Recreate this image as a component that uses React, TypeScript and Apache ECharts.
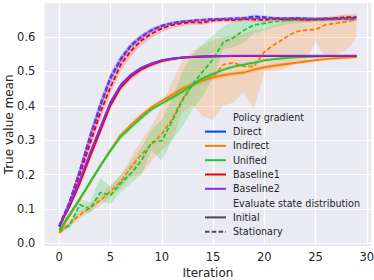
import React, { useEffect, useRef } from "react";
import * as echarts from "echarts";

// ---------- data ----------
const iterations = [0, 1, 2, 3, 4, 5, 6, 7, 8, 9, 10, 11, 12, 13, 14, 15, 16, 17, 18, 19, 20, 21, 22, 23, 24, 25, 26, 27, 28, 29];

const legendLabels = ["Policy gradient", "Direct", "Indirect", "Unified", "Baseline1", "Baseline2", "Evaluate state distribution", "Initial", "Stationary"];

// Direct (blue)
const directInit = [0.05, 0.11, 0.18, 0.26, 0.335, 0.41, 0.46, 0.49, 0.51, 0.523, 0.532, 0.537, 0.54, 0.542, 0.543, 0.544, 0.544, 0.545, 0.545, 0.545, 0.545, 0.545, 0.545, 0.545, 0.545, 0.545, 0.545, 0.545, 0.545, 0.545];
const directInitSd = [0.004, 0.006, 0.008, 0.009, 0.009, 0.008, 0.007, 0.006, 0.005, 0.004, 0.003, 0.003, 0.002, 0.002, 0.002, 0.002, 0.002, 0.002, 0.002, 0.002, 0.002, 0.002, 0.002, 0.002, 0.002, 0.002, 0.002, 0.002, 0.002, 0.002];
const directStat = [0.05, 0.12, 0.21, 0.31, 0.4, 0.48, 0.535, 0.575, 0.6, 0.62, 0.633, 0.64, 0.645, 0.648, 0.65, 0.652, 0.653, 0.654, 0.655, 0.66, 0.658, 0.655, 0.654, 0.655, 0.654, 0.653, 0.654, 0.653, 0.654, 0.655];
const directStatSd = [0.005, 0.008, 0.012, 0.014, 0.014, 0.012, 0.01, 0.008, 0.007, 0.006, 0.005, 0.005, 0.004, 0.004, 0.004, 0.004, 0.004, 0.005, 0.005, 0.006, 0.005, 0.004, 0.004, 0.004, 0.004, 0.004, 0.004, 0.004, 0.004, 0.004];

// Indirect (orange)
const indirectInit = [0.032, 0.08, 0.128, 0.176, 0.225, 0.272, 0.315, 0.345, 0.372, 0.396, 0.414, 0.432, 0.45, 0.462, 0.473, 0.483, 0.489, 0.494, 0.497, 0.505, 0.512, 0.517, 0.521, 0.525, 0.529, 0.533, 0.536, 0.538, 0.54, 0.542];
const indirectInitSd = [0.004, 0.005, 0.006, 0.007, 0.008, 0.008, 0.008, 0.008, 0.008, 0.008, 0.008, 0.008, 0.008, 0.008, 0.008, 0.008, 0.007, 0.007, 0.007, 0.007, 0.006, 0.006, 0.006, 0.005, 0.005, 0.005, 0.004, 0.004, 0.004, 0.004];
const indirectStat = [0.031, 0.057, 0.083, 0.104, 0.125, 0.152, 0.18, 0.222, 0.258, 0.288, 0.318, 0.36, 0.42, 0.46, 0.475, 0.483, 0.52, 0.525, 0.515, 0.515, 0.557, 0.578, 0.597, 0.615, 0.62, 0.622, 0.636, 0.64, 0.645, 0.65];
const indirectStatLo = [0.025, 0.048, 0.072, 0.092, 0.11, 0.135, 0.16, 0.195, 0.2, 0.24, 0.27, 0.3, 0.38, 0.4, 0.37, 0.36, 0.4, 0.41, 0.44, 0.39, 0.5, 0.5, 0.51, 0.52, 0.53, 0.585, 0.54, 0.55, 0.56, 0.6];
const indirectStatHi = [0.037, 0.066, 0.094, 0.116, 0.14, 0.17, 0.2, 0.25, 0.3, 0.34, 0.4, 0.47, 0.53, 0.56, 0.575, 0.59, 0.6, 0.605, 0.61, 0.62, 0.625, 0.635, 0.645, 0.65, 0.65, 0.65, 0.655, 0.655, 0.655, 0.66];

// Unified (green)
const unifiedInit = [0.04, 0.085, 0.13, 0.178, 0.225, 0.27, 0.31, 0.338, 0.365, 0.39, 0.407, 0.424, 0.441, 0.461, 0.48, 0.493, 0.505, 0.514, 0.52, 0.526, 0.532, 0.536, 0.539, 0.541, 0.542, 0.543, 0.544, 0.544, 0.545, 0.545];
const unifiedInitSd = [0.004, 0.005, 0.006, 0.007, 0.008, 0.008, 0.008, 0.008, 0.008, 0.008, 0.007, 0.007, 0.007, 0.007, 0.006, 0.006, 0.006, 0.005, 0.005, 0.005, 0.004, 0.004, 0.004, 0.003, 0.003, 0.003, 0.003, 0.003, 0.003, 0.003];
const unifiedStat = [0.038, 0.053, 0.112, 0.101, 0.148, 0.14, 0.175, 0.204, 0.24, 0.295, 0.298, 0.355, 0.415, 0.462, 0.5, 0.535, 0.585, 0.598, 0.62, 0.635, 0.64, 0.645, 0.648, 0.65, 0.65, 0.651, 0.651, 0.652, 0.652, 0.652];
const unifiedStatLo = [0.033, 0.045, 0.09, 0.088, 0.125, 0.115, 0.15, 0.175, 0.2, 0.27, 0.24, 0.3, 0.34, 0.39, 0.43, 0.48, 0.565, 0.57, 0.585, 0.61, 0.62, 0.63, 0.635, 0.64, 0.642, 0.645, 0.645, 0.645, 0.645, 0.645];
const unifiedStatHi = [0.043, 0.06, 0.13, 0.12, 0.19, 0.165, 0.2, 0.235, 0.28, 0.33, 0.36, 0.42, 0.5, 0.55, 0.58, 0.605, 0.63, 0.645, 0.65, 0.652, 0.655, 0.655, 0.658, 0.658, 0.658, 0.658, 0.658, 0.658, 0.658, 0.658];

// Baseline1 (red)
const baseline1Init = [0.05, 0.107, 0.175, 0.252, 0.327, 0.402, 0.454, 0.485, 0.506, 0.52, 0.53, 0.536, 0.54, 0.542, 0.543, 0.544, 0.545, 0.545, 0.545, 0.545, 0.545, 0.545, 0.545, 0.545, 0.545, 0.545, 0.545, 0.545, 0.545, 0.545];
const baseline1InitSd = [0.005, 0.008, 0.011, 0.013, 0.013, 0.012, 0.011, 0.01, 0.008, 0.007, 0.006, 0.005, 0.004, 0.003, 0.003, 0.003, 0.003, 0.003, 0.003, 0.003, 0.003, 0.003, 0.003, 0.003, 0.003, 0.003, 0.003, 0.003, 0.003, 0.003];
const baseline1Stat = [0.05, 0.115, 0.2, 0.29, 0.38, 0.455, 0.52, 0.56, 0.59, 0.61, 0.625, 0.635, 0.64, 0.643, 0.642, 0.648, 0.65, 0.649, 0.652, 0.651, 0.65, 0.653, 0.651, 0.652, 0.65, 0.651, 0.652, 0.655, 0.658, 0.658];
const baseline1StatSd = [0.006, 0.01, 0.015, 0.018, 0.02, 0.02, 0.018, 0.016, 0.014, 0.012, 0.01, 0.009, 0.008, 0.007, 0.007, 0.006, 0.006, 0.006, 0.006, 0.006, 0.006, 0.006, 0.006, 0.006, 0.006, 0.006, 0.006, 0.007, 0.008, 0.008];

// Baseline2 (purple)
const baseline2Init = [0.052, 0.112, 0.183, 0.262, 0.337, 0.41, 0.46, 0.49, 0.51, 0.523, 0.532, 0.537, 0.541, 0.543, 0.544, 0.545, 0.545, 0.546, 0.546, 0.546, 0.546, 0.546, 0.546, 0.546, 0.546, 0.546, 0.546, 0.546, 0.546, 0.546];
const baseline2InitSd = [0.004, 0.006, 0.008, 0.009, 0.009, 0.008, 0.007, 0.006, 0.005, 0.004, 0.003, 0.003, 0.002, 0.002, 0.002, 0.002, 0.002, 0.002, 0.002, 0.002, 0.002, 0.002, 0.002, 0.002, 0.002, 0.002, 0.002, 0.002, 0.002, 0.002];
const baseline2Stat = [0.052, 0.122, 0.212, 0.312, 0.405, 0.485, 0.538, 0.577, 0.602, 0.62, 0.632, 0.64, 0.645, 0.648, 0.65, 0.651, 0.653, 0.652, 0.654, 0.656, 0.655, 0.654, 0.653, 0.654, 0.653, 0.652, 0.653, 0.652, 0.653, 0.654];
const baseline2StatSd = [0.005, 0.008, 0.012, 0.014, 0.014, 0.012, 0.01, 0.008, 0.007, 0.006, 0.005, 0.005, 0.004, 0.004, 0.004, 0.004, 0.004, 0.004, 0.004, 0.004, 0.004, 0.004, 0.004, 0.004, 0.004, 0.004, 0.004, 0.004, 0.004, 0.004];

// ---------- styling ----------
const COLORS: Record<string, string> = {
  Direct: "#023EFF",
  Indirect: "#FF7C00",
  Unified: "#1AC938",
  Baseline1: "#E8000B",
  Baseline2: "#8B2BE2",
};
const TEXT = "#262626";
const FONT = "DejaVu Sans";
const DASH = [4.5, 2.3];
const LW = 1.8;

type Curve = { method: string; stationary: boolean; mean: number[]; lo: number[]; hi: number[] };

const sym = (mean: number[], sd: number[]) => ({
  lo: mean.map((v, i) => v - sd[i]),
  hi: mean.map((v, i) => v + sd[i]),
});

const curves: Curve[] = [
  { method: "Direct", stationary: false, mean: directInit, ...sym(directInit, directInitSd) },
  { method: "Direct", stationary: true, mean: directStat, ...sym(directStat, directStatSd) },
  { method: "Indirect", stationary: false, mean: indirectInit, ...sym(indirectInit, indirectInitSd) },
  { method: "Indirect", stationary: true, mean: indirectStat, lo: indirectStatLo, hi: indirectStatHi },
  { method: "Unified", stationary: false, mean: unifiedInit, ...sym(unifiedInit, unifiedInitSd) },
  { method: "Unified", stationary: true, mean: unifiedStat, lo: unifiedStatLo, hi: unifiedStatHi },
  { method: "Baseline1", stationary: false, mean: baseline1Init, ...sym(baseline1Init, baseline1InitSd) },
  { method: "Baseline1", stationary: true, mean: baseline1Stat, ...sym(baseline1Stat, baseline1StatSd) },
  { method: "Baseline2", stationary: false, mean: baseline2Init, ...sym(baseline2Init, baseline2InitSd) },
  { method: "Baseline2", stationary: true, mean: baseline2Stat, ...sym(baseline2Stat, baseline2StatSd) },
];

function hexToRgba(hex: string, a: number) {
  const n = parseInt(hex.slice(1), 16);
  return `rgba(${(n >> 16) & 255},${(n >> 8) & 255},${n & 255},${a})`;
}

function buildOption() {
  const series: any[] = [];
  curves.forEach((c, ci) => {
    const color = COLORS[c.method];
    series.push({
      type: "custom",
      name: `${c.method}-band-${ci}`,
      silent: true,
      z: 1,
      clip: true,
      data: iterations.map((x, i) => [x, c.lo[i], c.hi[i]]),
      encode: { x: 0, y: [1, 2] },
      renderItem: (params: any, api: any) => {
        if (params.dataIndex !== 0) return { type: "group", children: [] };
        const pts: number[][] = [];
        for (let i = 0; i < iterations.length; i++) pts.push(api.coord([iterations[i], c.hi[i]]));
        for (let i = iterations.length - 1; i >= 0; i--) pts.push(api.coord([iterations[i], c.lo[i]]));
        return {
          type: "polygon",
          shape: { points: pts },
          style: { fill: hexToRgba(color, 0.2), stroke: "none" },
        };
      },
    });
  });
  curves.forEach((c) => {
    const color = COLORS[c.method];
    series.push({
      type: "line",
      name: c.stationary ? `${c.method} (Stationary)` : c.method,
      z: 3,
      color,
      symbol: "none",
      showSymbol: false,
      data: iterations.map((x, i) => [x, c.mean[i]]),
      lineStyle: { color, width: LW, type: c.stationary ? DASH : "solid" },
    });
  });
  series.push({ type: "line", name: "Policy gradient", data: [], symbol: "none", color: "rgba(0,0,0,0)" });
  series.push({ type: "line", name: "Evaluate state distribution", data: [], symbol: "none", color: "rgba(0,0,0,0)" });
  series.push({ type: "line", name: "Initial", data: [], symbol: "none", color: "#4a4a4a", lineStyle: { width: LW, type: "solid" } });
  series.push({ type: "line", name: "Stationary", data: [], symbol: "none", color: "#4a4a4a", lineStyle: { width: LW, type: DASH } });

  return {
    animation: false,
    textStyle: { fontFamily: FONT },
    grid: {
      left: 44.4,
      right: 2.6,
      top: 3,
      bottom: 34.1,
      show: true,
      containLabel: false,
      outerBoundsMode: "none",
      backgroundColor: "#EAEAF2",
      borderWidth: 0,
    },
    xAxis: {
      type: "value",
      min: -1.45,
      max: 30.45,
      splitNumber: 6,
      name: "Iteration",
      nameLocation: "middle",
      nameGap: 21,
      nameMoveOverlap: false,
      nameTextStyle: { fontSize: 12, color: TEXT, fontFamily: FONT },
      axisLine: { show: false },
      axisTick: { show: false },
      axisLabel: {
        margin: 5,
        fontSize: 11.5,
        color: TEXT,
        fontFamily: FONT,
        formatter: (v: number) => {
          const r = Math.round(v);
          return Math.abs(v - r) < 1e-6 && r % 5 === 0 ? String(r) : "";
        },
      },
      splitLine: { show: true, showMinLine: false, showMaxLine: false, lineStyle: { color: "#ffffff", width: 1.2 } },
    },
    yAxis: {
      type: "value",
      min: -0.007,
      max: 0.699,
      splitNumber: 7,
      name: "True value mean",
      nameLocation: "middle",
      nameGap: 29,
      nameMoveOverlap: false,
      nameTextStyle: { fontSize: 12, color: TEXT, fontFamily: FONT },
      axisLine: { show: false },
      axisTick: { show: false },
      axisLabel: {
        margin: 9,
        fontSize: 11.5,
        color: TEXT,
        fontFamily: FONT,
        formatter: (v: number) => {
          const r = Math.round(v * 10);
          return Math.abs(v * 10 - r) < 1e-6 ? (r / 10).toFixed(1) : "";
        },
      },
      splitLine: { show: true, showMinLine: false, showMaxLine: false, lineStyle: { color: "#ffffff", width: 1.2 } },
    },
    legend: {
      orient: "vertical",
      left: 204,
      top: 112.3,
      padding: 0,
      itemWidth: 21,
      itemHeight: 10,
      itemGap: 4.3,
      selectedMode: false,
      itemStyle: { opacity: 0 },
      textStyle: { fontSize: 9.6, color: TEXT, fontFamily: FONT, lineHeight: 10, padding: [0, 0, 0, 2] },
      data: legendLabels.map((n) =>
        n === "Policy gradient" || n === "Evaluate state distribution" ? { name: n, icon: "none" } : { name: n }
      ),
    },
    series,
  };
}

export default function App() {
  const ref = useRef<HTMLDivElement>(null);
  useEffect(() => {
    if (!ref.current) return;
    const chart = echarts.init(ref.current, undefined, { renderer: "svg" });
    chart.setOption(buildOption() as any);
    return () => chart.dispose();
  }, []);
  return (
    <div
      ref={ref}
      style={{ position: "fixed", left: 0, top: 0, width: 374, height: 280, background: "#ffffff" }}
    />
  );
}
